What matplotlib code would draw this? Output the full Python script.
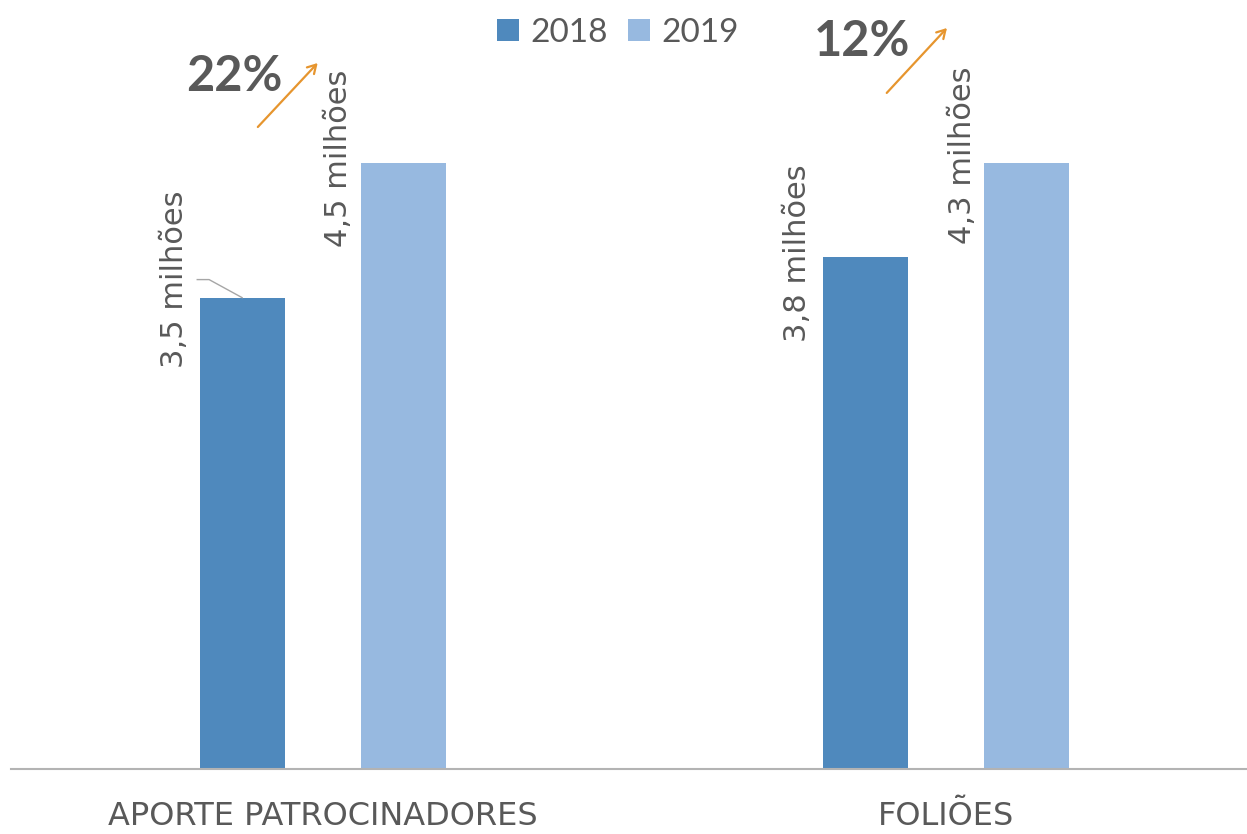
import matplotlib
matplotlib.use("Agg")
import matplotlib.pyplot as plt
import numpy as np

# ---- data ----
categories = ["APORTE PATROCINADORES", "FOLIÕES"]
series_names = ["2018", "2019"]
values_2018 = [3.5, 3.8]
values_2019 = [4.5, 4.5]
labels_2018 = ["3,5 milhões", "3,8 milhões"]
labels_2019 = ["4,5 milhões", "4,3 milhões"]
growth_labels = ["22%", "12%"]

# ---- styles ----
C2018 = "#4F89BD"
C2019 = "#97B9E0"
TXT = "#595959"
ORANGE = "#E6952E"

plt.rcParams['font.family'] = ['Lato', 'DejaVu Sans']

fig = plt.figure(figsize=(12.47, 8.34), dpi=100)
ax = fig.add_axes([11 / 1247, 65 / 834, 1236 / 1247, 769 / 834])

x = np.arange(len(categories))
w = 0.1364
off = 0.1292
ax.bar(x - off, values_2018, w, color=C2018, label=series_names[0], zorder=2)
ax.bar(x + off, values_2019, w, color=C2019, label=series_names[1], zorder=2)

ax.set_xlim(-0.5, 1.483)
ax.set_ylim(0, 5.71)

for s in ["top", "left", "right"]:
    ax.spines[s].set_visible(False)
ax.spines["bottom"].set_color("#B3B3B3")
ax.spines["bottom"].set_linewidth(1.5)
ax.set_yticks([])
ax.set_xticks(x)
ax.set_xticklabels(categories, fontsize=23, color=TXT, family=['DejaVu Sans'])
ax.tick_params(axis='x', length=0, pad=23)

# rotated data labels
lab_dx = [-0.109, -0.109]
lab_dy18 = [0.138, 0.032]
lab_dy19 = [0.037, 0.059]
for i in range(len(categories)):
    ax.text(x[i] - off + lab_dx[i], values_2018[i] + lab_dy18[i], labels_2018[i],
            rotation=90, ha='center', va='center', fontsize=22, color=TXT,
            family=['DejaVu Sans'])
    ax.text(x[i] + off - 0.103, values_2019[i] + lab_dy19[i], labels_2019[i],
            rotation=90, ha='center', va='center', fontsize=22, color=TXT,
            family=['DejaVu Sans'])

# leader line for first label
bx = x[0] - off
v = values_2018[0]
ax.plot([bx - 0.072, bx - 0.053, bx], [v + 0.134, v + 0.134, v],
        color="#A6A6A6", lw=1.0, zorder=3)

# growth annotations
pct_pos = [(-0.141, 5.14), (0.865, 5.40)]
arrows = [((-0.104, 4.767), (-0.008, 5.242)), ((0.905, 5.02), (1.0016, 5.502))]
for i in range(len(categories)):
    ax.text(pct_pos[i][0], pct_pos[i][1], growth_labels[i], ha='center', va='center',
            fontsize=35, fontweight='bold', color=TXT)
    (tx, ty), (hx, hy) = arrows[i]
    ax.annotate("", xy=(hx, hy), xytext=(tx, ty),
                arrowprops=dict(arrowstyle='->,head_length=0.6,head_width=0.35',
                                color=ORANGE, lw=1.6, shrinkA=0, shrinkB=0),
                annotation_clip=False)

leg = fig.legend(loc='center', bbox_to_anchor=(618 / 1247, 1 - 33 / 834), ncol=2,
                 frameon=False, fontsize=24, handlelength=0.65, handleheight=0.65,
                 handletextpad=0.35, columnspacing=0.6)
for t in leg.get_texts():
    t.set_color(TXT)

fig.savefig("out.png", dpi=100)
